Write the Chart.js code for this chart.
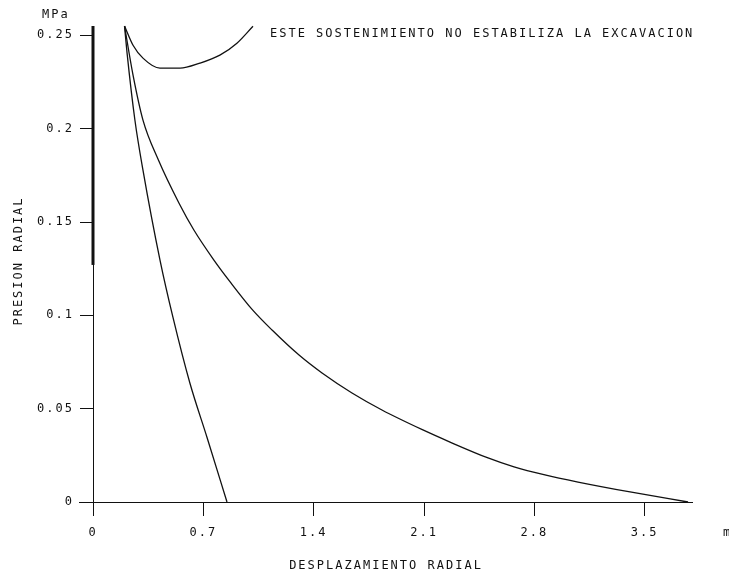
<!DOCTYPE html>
<html>
<head>
<meta charset="utf-8">
<script src="https://cdn.jsdelivr.net/npm/chart.js@4/dist/chart.umd.min.js"></script>
<style>
  body { margin: 0; background: #fff; }
  canvas { display: block; }
</style>
</head>
<body>
<canvas id="chart" width="729" height="576"></canvas>
<script>
// ticks
const tickX = [0, 0.7, 1.4, 2.1, 2.8, 3.5];
const tickXLabels = ['0', '0.7', '1.4', '2.1', '2.8', '3.5'];
const tickY = [0, 0.05, 0.1, 0.15, 0.2, 0.25];
const tickYLabels = ['0', '0.05', '0.1', '0.15', '0.2', '0.25'];

// curva caracteristica del terreno
const terrenoX = [0.2, 0.254, 0.317, 0.415, 0.545, 0.64, 0.767, 0.87, 1.012, 1.136, 1.307, 1.453, 1.643, 1.833, 2.093, 2.265, 2.506, 2.671, 2.867, 3.077, 3.407, 3.775];
const terrenoY = [0.255, 0.2287, 0.2046, 0.1832, 0.1602, 0.1457, 0.1296, 0.1179, 0.1029, 0.0921, 0.0787, 0.0691, 0.0584, 0.0493, 0.0386, 0.0321, 0.0236, 0.0188, 0.0145, 0.0107, 0.0054, 0];

// segunda curva (casi recta)
const rectaX = [0.2, 0.216, 0.266, 0.317, 0.425, 0.507, 0.615, 0.723, 0.85];
const rectaY = [0.255, 0.2406, 0.2045, 0.1778, 0.1296, 0.099, 0.0636, 0.0347, 0];

// sostenimiento
const sostX = [0.2, 0.254, 0.317, 0.425, 0.552, 0.678, 0.805, 0.913, 1.015];
const sostY = [0.255, 0.2447, 0.2378, 0.2324, 0.2324, 0.2351, 0.2394, 0.2458, 0.2549];

// barra vertical sobre el eje
const barraX = [0, 0];
const barraY = [0.255, 0.127];

const FONT = '"DejaVu Sans Mono", "Liberation Mono", monospace';
const SPACING = '2px';

const toPoints = (xs, ys) => xs.map((x, i) => ({ x: x, y: ys[i] }));

const lineSet = (xs, ys, width) => ({
  data: toPoints(xs, ys),
  borderColor: '#111',
  borderWidth: width,
  pointRadius: 0,
  showLine: true,
  cubicInterpolationMode: 'monotone',
  clip: false
});

const textPlugin = {
  id: 'texts',
  beforeLayout(chart) {
    chart.ctx.letterSpacing = SPACING;
  },
  beforeDraw(chart) {
    const ctx = chart.ctx;
    ctx.save();
    ctx.fillStyle = '#fff';
    ctx.fillRect(0, 0, chart.width, chart.height);
    ctx.restore();
    ctx.letterSpacing = SPACING;
  },
  afterDraw(chart) {
    const ctx = chart.ctx;
    const y0 = chart.scales.y.getPixelForValue(0);
    const x0 = chart.scales.x.getPixelForValue(0);
    ctx.save();
    // extension del eje x hacia la izquierda
    ctx.strokeStyle = '#111';
    ctx.lineWidth = 1;
    ctx.beginPath();
    ctx.moveTo(x0 - 14, y0 + 0.5);
    ctx.lineTo(x0, y0 + 0.5);
    ctx.stroke();

    ctx.letterSpacing = SPACING;
    ctx.fillStyle = '#111';
    ctx.font = '12px ' + FONT;
    ctx.textBaseline = 'middle';
    ctx.textAlign = 'left';
    ctx.fillText('MPa', 42, 15);
    ctx.fillText('ESTE SOSTENIMIENTO NO ESTABILIZA LA EXCAVACION', 270, 34);
    ctx.fillText('m', 723, 533);
    ctx.textAlign = 'center';
    ctx.fillText('DESPLAZAMIENTO RADIAL', 386, 566);
    ctx.translate(19, 261);
    ctx.rotate(-Math.PI / 2);
    ctx.fillText('PRESION RADIAL', 0, 0);
    ctx.restore();
  }
};

new Chart(document.getElementById('chart'), {
  type: 'scatter',
  data: {
    datasets: [
      lineSet(terrenoX, terrenoY, 1.3),
      lineSet(rectaX, rectaY, 1.3),
      lineSet(sostX, sostY, 1.3),
      lineSet(barraX, barraY, 3)
    ]
  },
  options: {
    responsive: false,
    animation: false,
    layout: { padding: { top: 26, right: 37, left: 0, bottom: 0 } },
    plugins: {
      legend: { display: false },
      tooltip: { enabled: false }
    },
    scales: {
      x: {
        type: 'linear',
        min: 0,
        max: 3.8,
        afterBuildTicks: (scale) => { scale.ticks = tickX.map((v) => ({ value: v })); },
        afterFit: (scale) => { scale.height = 74; },
        border: { display: true, color: '#111', width: 1 },
        grid: { drawOnChartArea: false, drawTicks: true, tickLength: 14, color: '#111' },
        ticks: {
          color: '#111',
          font: { family: FONT, size: 12 },
          padding: 10,
          maxRotation: 0,
          callback: (v, i) => tickXLabels[i]
        }
      },
      y: {
        type: 'linear',
        min: 0,
        max: 0.255,
        afterBuildTicks: (scale) => { scale.ticks = tickY.map((v) => ({ value: v })); },
        afterFit: (scale) => { scale.width = 93; },
        border: { display: true, color: '#111', width: 1 },
        grid: { drawOnChartArea: false, drawTicks: true, tickLength: 13, color: '#111' },
        ticks: {
          color: '#111',
          font: { family: FONT, size: 12 },
          padding: 6,
          callback: (v, i) => tickYLabels[i]
        }
      }
    }
  },
  plugins: [textPlugin]
});
</script>
</body>
</html>
